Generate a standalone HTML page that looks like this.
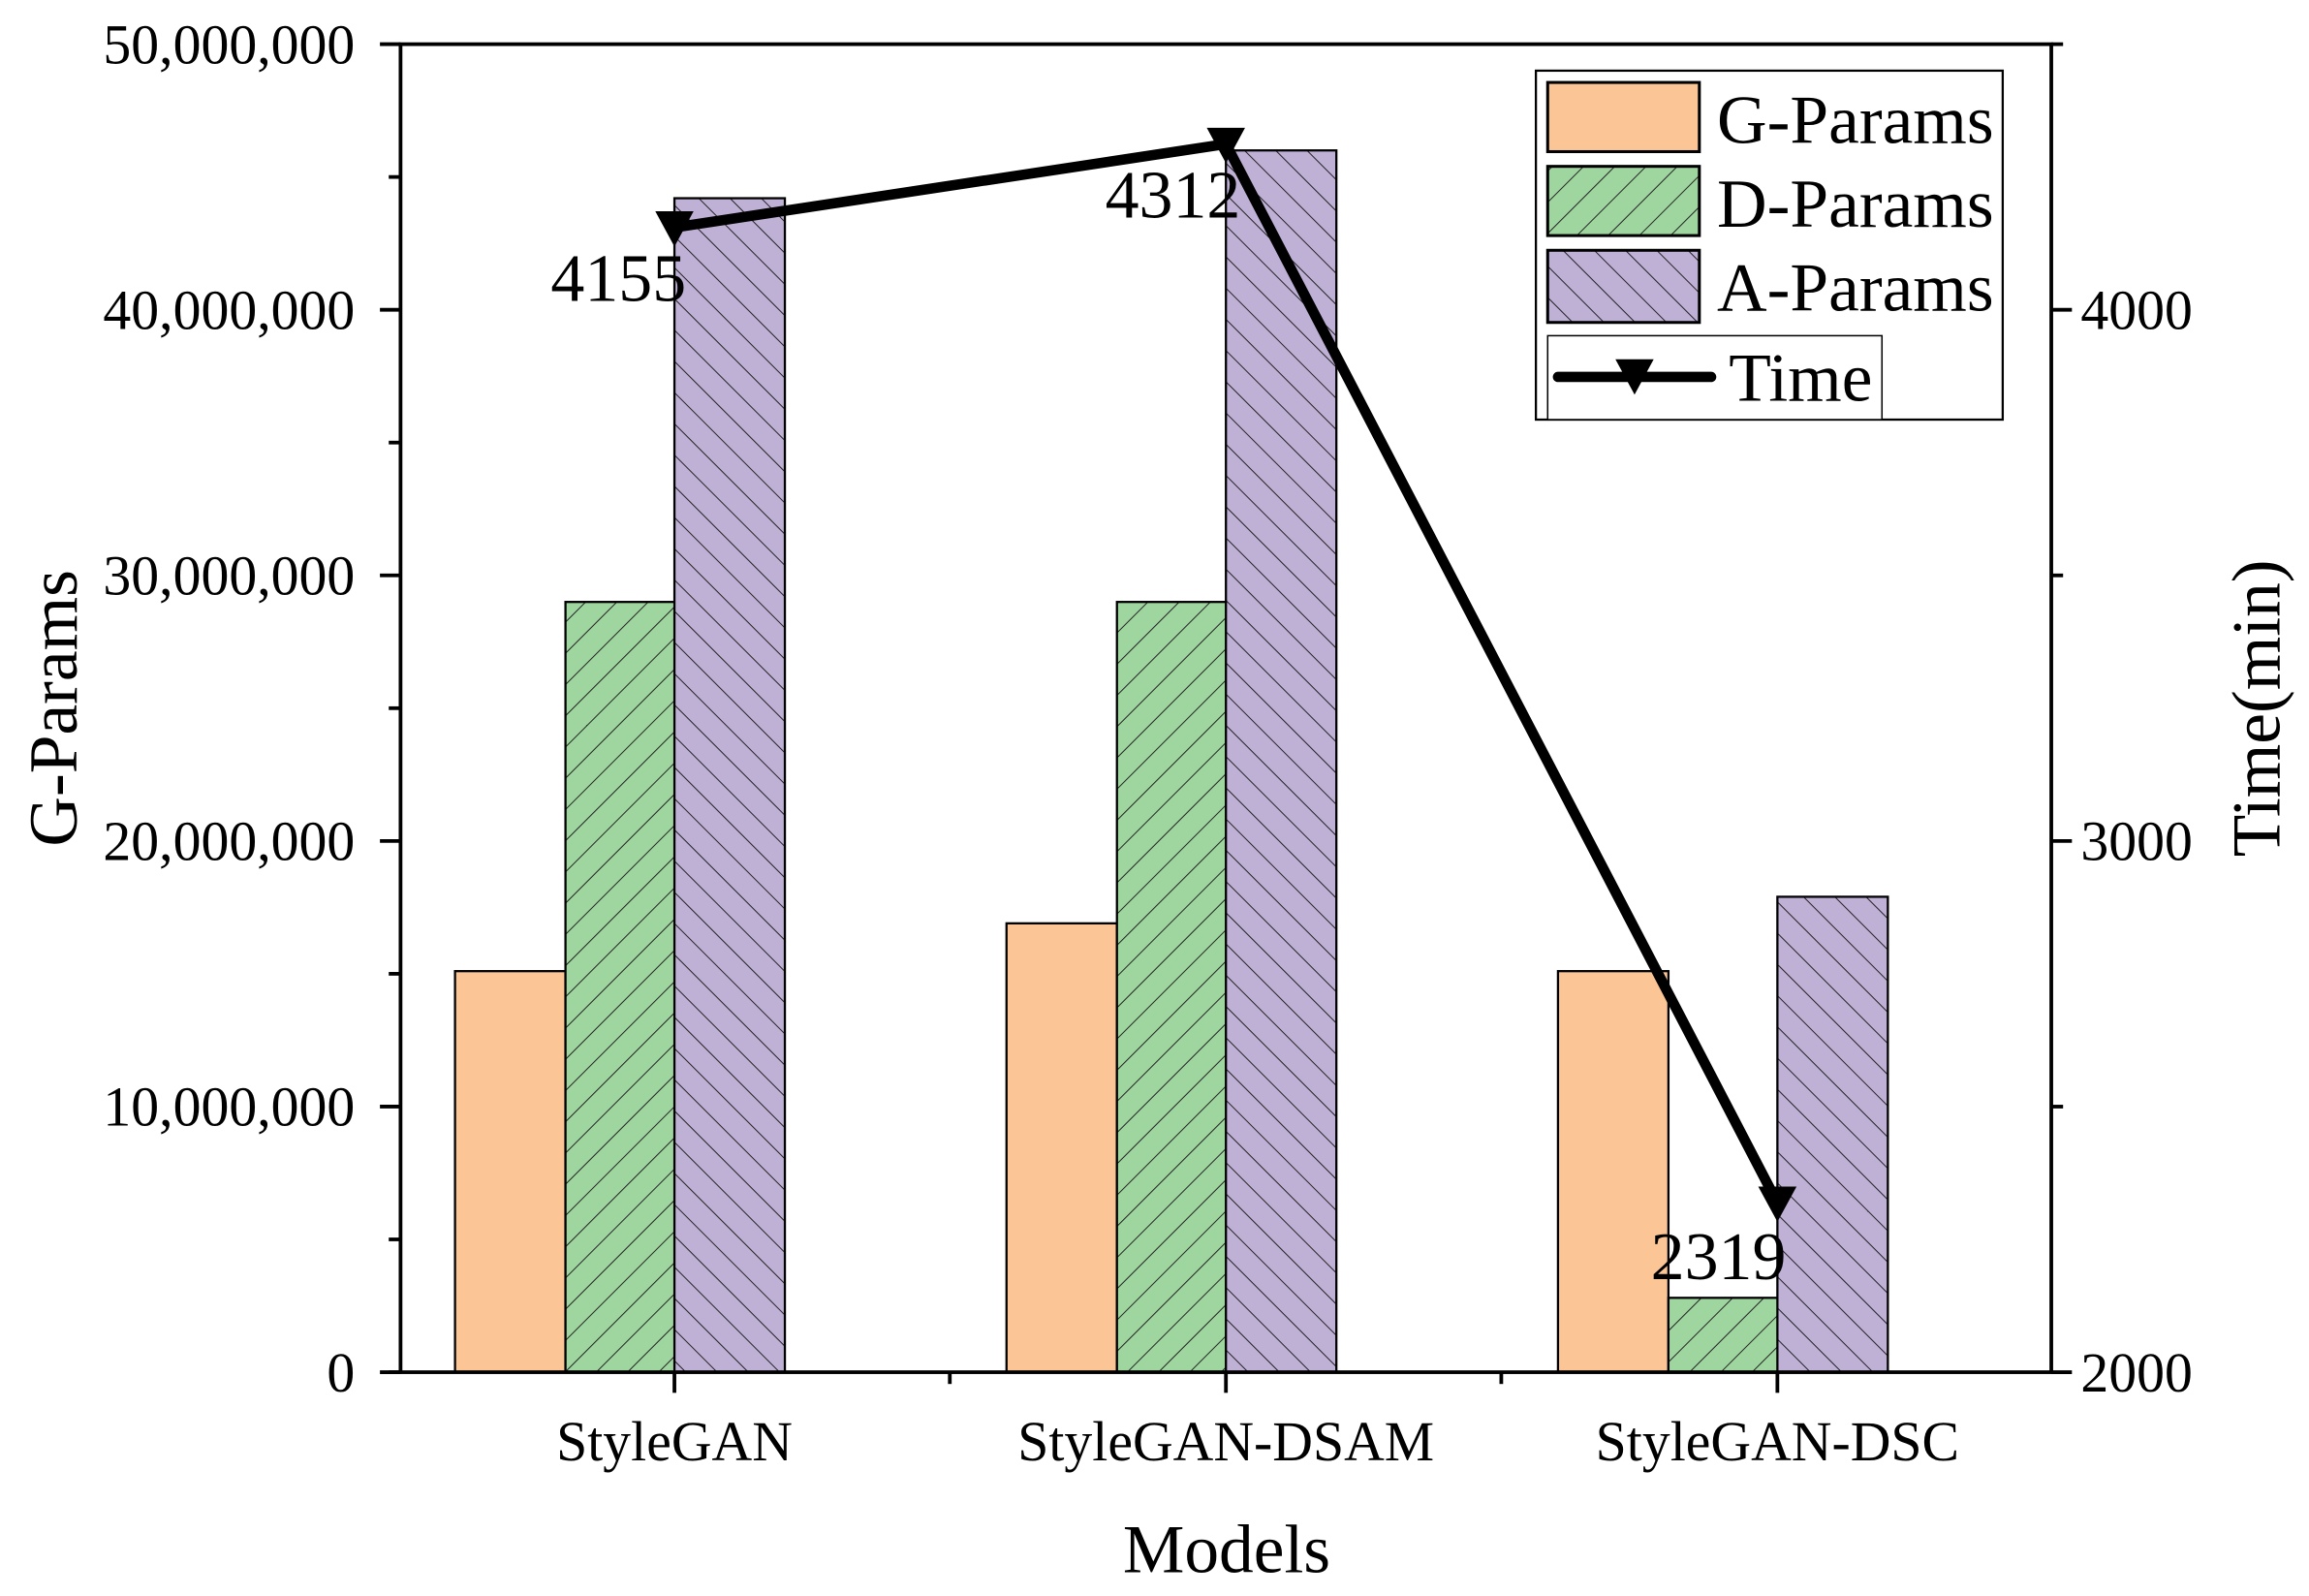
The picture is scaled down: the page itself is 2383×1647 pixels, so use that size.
<!DOCTYPE html>
<html><head><meta charset="utf-8"><style>
html,body{margin:0;padding:0;background:#fff;}
svg{display:block;font-family:"Liberation Serif",serif;}
</style></head><body>
<svg id="chart" width="2383" height="1647" viewBox="0 0 1568 1084" preserveAspectRatio="none" xmlns="http://www.w3.org/2000/svg">
<defs>
<pattern id="hatchD" patternUnits="userSpaceOnUse" width="15" height="15" patternTransform="rotate(45)">
<rect width="15" height="15" fill="#9fd69f"/><line x1="0" y1="0" x2="0" y2="15" stroke="#222" stroke-width="1.3"/></pattern>
<pattern id="hatchA" patternUnits="userSpaceOnUse" width="15" height="15" patternTransform="rotate(-45)">
<rect width="15" height="15" fill="#bfb0d6"/><line x1="0" y1="0" x2="0" y2="15" stroke="#222" stroke-width="1.3"/></pattern>
</defs>
<g id="bars"></g>
<g id="axes"></g>
<g id="line"></g>
<g id="legend"></g>
</svg>
<script>
const categories = ["StyleGAN", "StyleGAN-DSAM", "StyleGAN-DSC"];
const gParams = [15100000, 16900000, 15100000];
const dParams = [29000000, 29000000, 2800000];
const aParams = [44200000, 46000000, 17900000];
const timeMin = [4155, 4312, 2319];
const leftTicks = [0, 10000000, 20000000, 30000000, 40000000, 50000000];
const rightTicks = [2000, 3000, 4000];

const NS = "http://www.w3.org/2000/svg";
const L = 272, R = 1393, T = 30, B = 932;
const yL = v => B - (v / 50000000) * (B - T);
const yR = v => B - ((v - 2000) / 2500) * (B - T);
const xC = i => 458 + i * 374.5;
function mk(tag, attrs, parent, text) {
  const e = document.createElementNS(NS, tag);
  for (const k in attrs) e.setAttribute(k, attrs[k]);
  if (text !== undefined) e.textContent = text;
  parent.appendChild(e);
  return e;
}
const fmt = v => v.toLocaleString("en-US");
const bars = document.getElementById("bars");
const series = [[gParams, "#fcc595", -149, "g-params-bar"], [dParams, "url(#hatchD)", -74, "d-params-bar"], [aParams, "url(#hatchA)", 0, "a-params-bar"]];
series.forEach(([vals, fill, off, name]) => {
  vals.forEach((v, i) => {
    const r = mk("rect", {x: xC(i) + off, y: yL(v), width: 75, height: B - yL(v), fill: fill, stroke: "#000", "stroke-width": 1.5}, bars);
    
    
  });
});
const axes = document.getElementById("axes");
mk("rect", {x: L, y: T, width: R - L, height: B - T, fill: "none", stroke: "#000", "stroke-width": 2.5}, axes);
for (let v = 0; v <= 50000000; v += 5000000) {
  const major = v % 10000000 === 0;
  mk("line", {x1: L - (major ? 14 : 8), x2: L, y1: yL(v), y2: yL(v), stroke: "#000", "stroke-width": 2.5}, axes);
}
leftTicks.forEach(v => {
  const t = mk("text", {x: L - 31, y: yL(v) + 13, "text-anchor": "end", "font-size": 38}, axes, fmt(v));
  
  
});
for (let v = 2000; v <= 4500; v += 500) {
  const major = v % 1000 === 0;
  mk("line", {x1: R, x2: R + (major ? 14 : 8), y1: yR(v), y2: yR(v), stroke: "#000", "stroke-width": 2.5}, axes);
}
rightTicks.forEach(v => {
  const t = mk("text", {x: R + 20, y: yR(v) + 13, "font-size": 38}, axes, String(v));
  
  
});
categories.forEach((c, i) => {
  mk("line", {x1: xC(i), x2: xC(i), y1: B, y2: B + 14, stroke: "#000", "stroke-width": 2.5}, axes);
  if (i < categories.length - 1) mk("line", {x1: xC(i) + 187, x2: xC(i) + 187, y1: B, y2: B + 8, stroke: "#000", "stroke-width": 2.5}, axes);
  const t = mk("text", {x: xC(i), y: B + 60, "text-anchor": "middle", "font-size": 38}, axes, c);
  
  
});
mk("line", {x1: L - 8, x2: L, y1: B, y2: B, stroke: "#000", "stroke-width": 2.5}, axes);
let t = mk("text", {x: 833, y: 1068, "text-anchor": "middle", "font-size": 47}, axes, "Models");
 
t = mk("text", {x: 0, y: 0, "text-anchor": "middle", "font-size": 47, transform: "translate(52,481) rotate(-90)"}, axes, "G-Params");
 
t = mk("text", {x: 0, y: 0, "text-anchor": "middle", "font-size": 47, transform: "translate(1548,481) rotate(-90)"}, axes, "Time(min)");
 

const line = document.getElementById("line");
const pts = timeMin.map((v, i) => xC(i) + "," + yR(v)).join(" ");
const pl = mk("polyline", {points: pts, fill: "none", stroke: "#000", "stroke-width": 7, "stroke-linejoin": "round"}, line);
 
const lblOff = [[-38, 50], [-36, 50], [-40, 52]];
timeMin.forEach((v, i) => {
  const x = xC(i), y = yR(v);
  const m = mk("polygon", {points: `${x-13},${y-11} ${x+13},${y-11} ${x},${y+13}`, fill: "#000"}, line);
   
  const lb = mk("text", {x: x + lblOff[i][0], y: y + lblOff[i][1], "text-anchor": "middle", "font-size": 46}, line, String(v));
   
});

const lg = document.getElementById("legend");
mk("rect", {x: 1043, y: 48, width: 317, height: 237, fill: "#fff", stroke: "#000", "stroke-width": 1.5}, lg);
mk("rect", {x: 1051, y: 228, width: 227, height: 57, fill: "#fff", stroke: "#000", "stroke-width": 1}, lg);
const items = [["G-Params", "#fcc595"], ["D-Params", "url(#hatchD)"], ["A-Params", "url(#hatchA)"]];
items.forEach(([n, f], i) => {
  const y = 56 + i * 57;
  mk("rect", {x: 1051, y: y, width: 103, height: 49 - (i === 2 ? 0 : 2), fill: f, stroke: "#000", "stroke-width": 2}, lg);
  const tx = mk("text", {x: 1166, y: y + 41, "font-size": 47}, lg, n);
   
});
mk("line", {x1: 1058, x2: 1162, y1: 256, y2: 256, stroke: "#000", "stroke-width": 7, "stroke-linecap": "round"}, lg);
mk("polygon", {points: "1097,244 1123,244 1110,268", fill: "#000"}, lg);
const tt = mk("text", {x: 1174, y: 272, "font-size": 47}, lg, "Time");
 
</script>
</body></html>
